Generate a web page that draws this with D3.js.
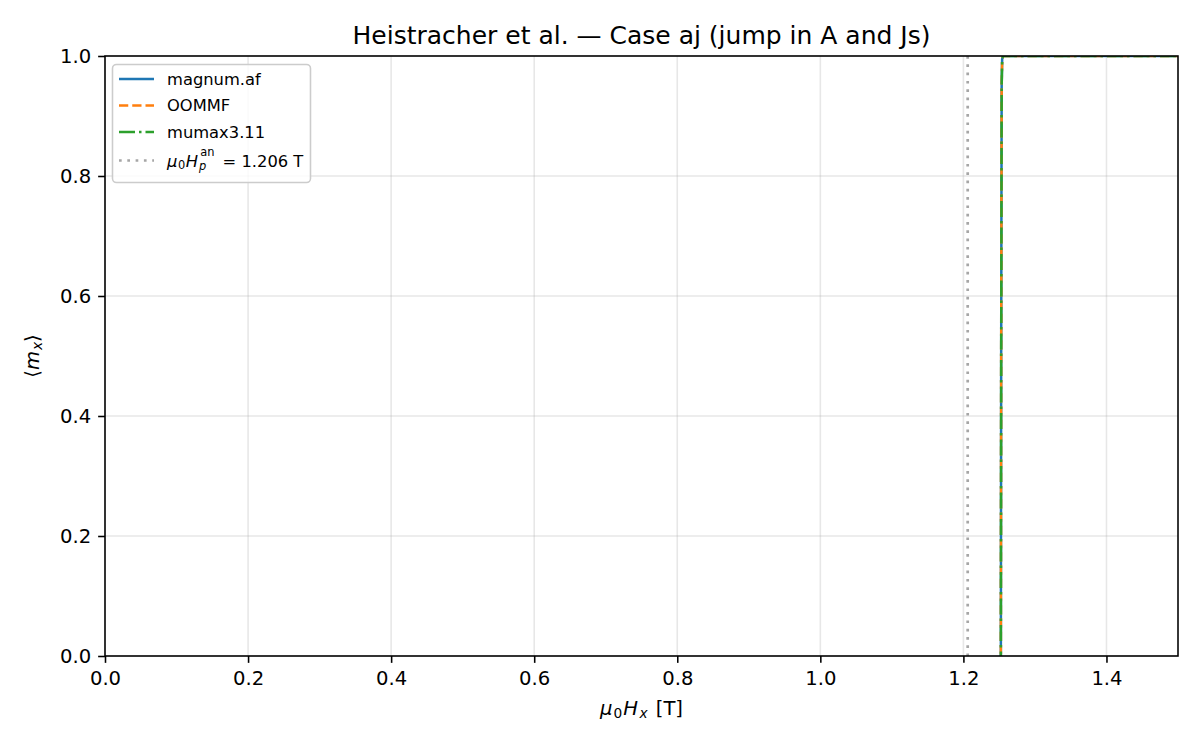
<!DOCTYPE html>
<html>
<head>
<meta charset="utf-8">
<script src="https://cdn.jsdelivr.net/npm/d3@7"></script>
<style>
  html, body { margin: 0; padding: 0; background: #fff; }
  svg { display: block; font-family: "DejaVu Sans", sans-serif; }
</style>
</head>
<body>
<svg id="chart" width="1200" height="750"></svg>
<script>
// field values [T] and <m_x> per code
// (below the switching field the magnetisation sits at -1, outside the y range)
const fieldMagnum = [0, 0.5, 1.0, 1.25, 1.2518, 1.2522, 1.2528, 1.2535, 1.2542, 1.2555, 1.3, 1.4, 1.5];
const mxMagnum    = [-1, -1, -1, -1, -1, -0.2, 0.5, 0.95, 0.995, 1, 1, 1, 1];
const fieldOommf  = [0, 0.5, 1.0, 1.25, 1.2518, 1.2522, 1.2528, 1.2535, 1.2542, 1.2555, 1.3, 1.4, 1.5];
const mxOommf     = [-1, -1, -1, -1, -1, -0.2, 0.5, 0.95, 0.995, 1, 1, 1, 1];
const fieldMumax  = [0, 0.5, 1.0, 1.25, 1.2518, 1.2522, 1.2528, 1.2535, 1.2542, 1.2555, 1.3, 1.4, 1.5];
const mxMumax     = [-1, -1, -1, -1, -1, -0.2, 0.5, 0.95, 0.995, 1, 1, 1, 1];
const hpAnalytic = 1.206;

const xTicks = [0, 0.2, 0.4, 0.6, 0.8, 1.0, 1.2, 1.4];
const yTicks = [0, 0.2, 0.4, 0.6, 0.8, 1.0];

const PT = 1.96; // px per pt in the picture
const LW = 2.5;

const series = [
  { name: "magnum.af", xs: fieldMagnum, ys: mxMagnum, color: "#1f77b4", dash: null },
  { name: "OOMMF", xs: fieldOommf, ys: mxOommf, color: "#ff7f0e", dash: [3.7 * LW, 1.6 * LW] },
  { name: "mumax3.11", xs: fieldMumax, ys: mxMumax, color: "#2ca02c", dash: [6.4 * LW, 1.6 * LW, 1 * LW, 1.6 * LW] },
];
const dotW = 2.7;
const dotDash = [2.7, 5.6];

const margin = { top: 56, right: 22, bottom: 94, left: 105 };
const width = 1200, height = 750;
const innerW = width - margin.left - margin.right;
const innerH = height - margin.top - margin.bottom;

const x = d3.scaleLinear().domain([0, 1.5]).range([0, innerW]);
const y = d3.scaleLinear().domain([0, 1]).range([innerH, 0]);

const svg = d3.select("#chart");
const g = svg.append("g").attr("transform", `translate(${margin.left},${margin.top})`);

svg.append("defs").append("clipPath").attr("id", "clip")
  .append("rect").attr("width", innerW).attr("height", innerH);

// grid
const gridW = 0.8 * PT;
g.append("g").selectAll("line").data(xTicks).join("line")
  .attr("x1", (d) => x(d)).attr("x2", (d) => x(d))
  .attr("y1", 0).attr("y2", innerH)
  .attr("stroke", "#b0b0b0").attr("stroke-opacity", 0.3).attr("stroke-width", gridW);
g.append("g").selectAll("line").data(yTicks).join("line")
  .attr("x1", 0).attr("x2", innerW)
  .attr("y1", (d) => y(d)).attr("y2", (d) => y(d))
  .attr("stroke", "#b0b0b0").attr("stroke-opacity", 0.3).attr("stroke-width", gridW);

const plot = g.append("g").attr("clip-path", "url(#clip)");

// analytic pinning field
plot.append("line")
  .attr("x1", x(hpAnalytic)).attr("x2", x(hpAnalytic))
  .attr("y1", 0).attr("y2", innerH)
  .attr("stroke", "gray").attr("stroke-opacity", 0.7)
  .attr("stroke-width", dotW).attr("stroke-dasharray", dotDash.join(","));

const line = d3.line().x((d) => x(d[0])).y((d) => y(d[1]));
for (const s of series) {
  const pts = s.xs.map((v, i) => [v, s.ys[i]]);
  plot.append("path").datum(pts)
    .attr("d", line)
    .attr("fill", "none")
    .attr("stroke", s.color)
    .attr("stroke-width", LW)
    .attr("stroke-dasharray", s.dash ? s.dash.join(",") : null);
}

// axes
const fs = 10 * PT;
const fmt = d3.format(".1f");
const xAxis = g.append("g").attr("transform", `translate(0,${innerH})`)
  .call(d3.axisBottom(x).tickValues(xTicks).tickFormat(fmt).tickSize(3.5 * PT).tickPadding(3.5 * PT + 1));
const yAxis = g.append("g")
  .call(d3.axisLeft(y).tickValues(yTicks).tickFormat(fmt).tickSize(3.5 * PT).tickPadding(3.5 * PT));
for (const ax of [xAxis, yAxis]) {
  ax.select(".domain").remove();
  ax.selectAll("line").attr("stroke", "#000").attr("stroke-width", 0.8 * PT);
  ax.selectAll("text").attr("fill", "#000").attr("font-size", fs)
    .attr("font-family", "DejaVu Sans");
}

// spines
g.append("rect").attr("width", innerW).attr("height", innerH)
  .attr("fill", "none").attr("stroke", "#000").attr("stroke-width", 0.8 * PT);

// title
svg.append("text")
  .attr("x", margin.left + innerW / 2).attr("y", 43.5)
  .attr("text-anchor", "middle").attr("font-size", 25).attr("fill", "#000")
  .text("Heistracher et al. \u2014 Case aj (jump in A and Js)");

// x label: mu_0 H_x [T]
const sfs = fs * 0.7;
const xl = svg.append("text")
  .attr("x", margin.left + innerW / 2).attr("y", 715)
  .attr("text-anchor", "middle").attr("font-size", fs).attr("fill", "#000");
xl.append("tspan").attr("font-style", "italic").text("\u03bc");
xl.append("tspan").attr("font-size", sfs).attr("dx", 1).attr("dy", 3).text("0");
xl.append("tspan").attr("font-style", "italic").attr("dx", 1).attr("dy", -3).text("H");
xl.append("tspan").attr("font-style", "italic").attr("font-size", sfs).attr("dx", 1.5).attr("dy", 3).text("x");
xl.append("tspan").attr("dx", 2).attr("dy", -3).text(" [T]");

// y label: <m_x>
const yl = svg.append("text")
  .attr("transform", `translate(38.5,${margin.top + innerH / 2}) rotate(-90)`)
  .attr("text-anchor", "middle").attr("font-size", fs).attr("fill", "#000");
yl.append("tspan").text("\u27e8");
yl.append("tspan").attr("font-style", "italic").text("m");
yl.append("tspan").attr("font-style", "italic").attr("font-size", sfs).attr("dx", 1).attr("dy", 3).text("x");
yl.append("tspan").attr("dy", -3).text("\u27e9");

// legend
const lg = svg.append("g");
lg.append("rect")
  .attr("x", 112.5).attr("y", 64.5).attr("width", 198).attr("height", 118)
  .attr("rx", 4).attr("fill", "#fff").attr("fill-opacity", 0.8)
  .attr("stroke", "#cccccc").attr("stroke-width", 0.8 * PT);
const lfs = 8.33 * PT;
const lsfs = lfs * 0.7;
const rowsY = [79, 105.5, 132, 160.5];
const legendItems = series.map((s) => ({ name: s.name, color: s.color, dash: s.dash, op: 1, w: LW }));
legendItems.push({ name: null, color: "gray", dash: dotDash, op: 0.7, w: dotW });
legendItems.forEach((it, i) => {
  const yy = rowsY[i];
  lg.append("line")
    .attr("x1", 119).attr("x2", 154).attr("y1", yy).attr("y2", yy)
    .attr("stroke", it.color).attr("stroke-opacity", it.op).attr("stroke-width", it.w)
    .attr("stroke-dasharray", it.dash ? it.dash.join(",") : null);
  const t = lg.append("text").attr("x", 167).attr("y", it.name ? yy + 5.5 : yy + 6)
    .attr("font-size", lfs).attr("fill", "#000");
  if (it.name) {
    t.text(it.name);
  } else {
    t.append("tspan").attr("font-style", "italic").text("\u03bc");
    t.append("tspan").attr("font-size", lsfs).attr("dx", 0.5).attr("dy", 2.5).text("0");
    t.append("tspan").attr("font-style", "italic").attr("dx", 0.5).attr("dy", -2.5).text("H");
    t.append("tspan").attr("font-style", "italic").attr("font-size", lsfs).attr("dx", 1).attr("dy", 3).text("p");
    t.append("tspan").attr("font-size", lsfs).attr("dx", -6).attr("dy", -14).text("an");
    t.append("tspan").attr("dx", 3).attr("dy", 11).text(" = " + hpAnalytic.toFixed(3) + " T");
  }
});
</script>
</body>
</html>
